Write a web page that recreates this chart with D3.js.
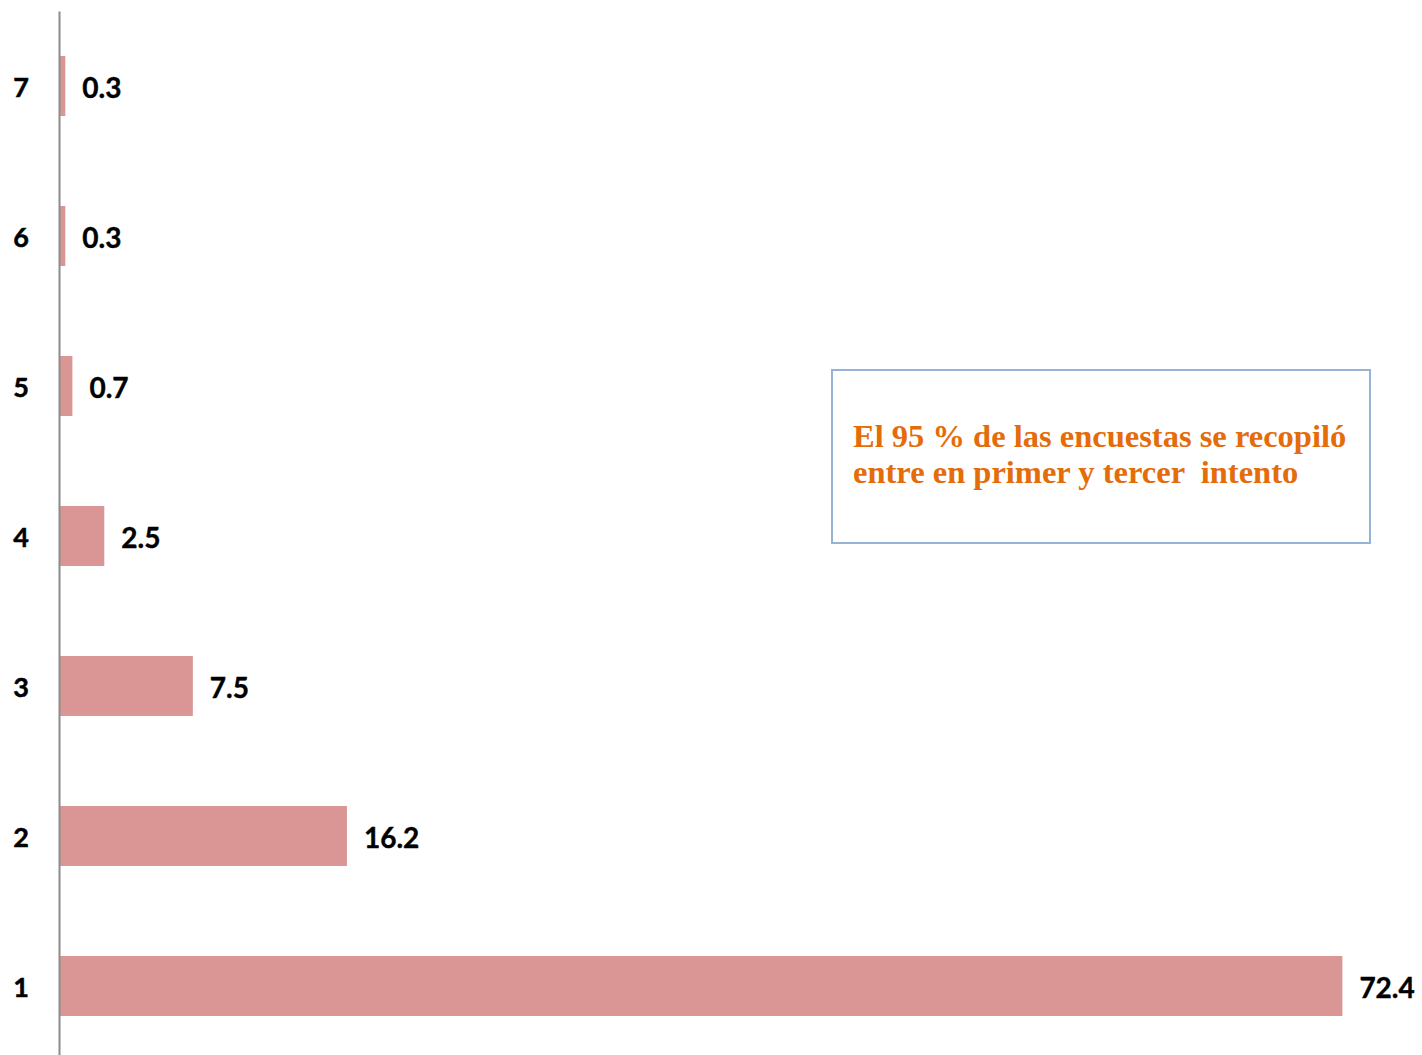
<!DOCTYPE html>
<html lang="es">
<head>
<meta charset="UTF-8" />
<title>Intentos</title>
<script src="https://cdn.jsdelivr.net/npm/d3@7"></script>
<style>
    body { margin: 0; background: #fff; }
</style>
</head>
<body>
<script>
    // datos
    const categories = ['1', '2', '3', '4', '5', '6', '7'];
    const values = [72.4, 16.2, 7.5, 2.5, 0.7, 0.3, 0.3];
    const noteLines = ['El 95 % de las encuestas se recopiló', 'entre en primer y tercer  intento'];

    const width = 1422, height = 1055;

    const svg = d3.select('body').append('svg')
        .attr('width', width)
        .attr('height', height);

    const x = d3.scaleLinear()
        .domain([0, 80])
        .range([60, 1477]);

    // 7 arriba, 1 abajo
    const y = d3.scaleBand()
        .domain(categories.slice().reverse())
        .range([11, 1061])
        .paddingInner(0.6)
        .paddingOuter(0.3);

    const data = categories.map((c, i) => ({ cat: c, value: values[i] }));

    svg.append('g')
        .selectAll('rect')
        .data(data)
        .join('rect')
        .attr('x', x(0))
        .attr('y', d => y(d.cat))
        .attr('width', d => x(d.value) - x(0))
        .attr('height', y.bandwidth())
        .attr('fill', '#d99694');

    // eje vertical
    const yAxis = svg.append('g')
        .attr('transform', `translate(${x(0) - 1},0)`)
        .call(d3.axisLeft(y).tickSize(0).tickPadding(30));
    yAxis.select('.domain')
        .attr('stroke', '#8c8c8c')
        .attr('stroke-width', 2);
    yAxis.selectAll('text')
        .attr('font-family', 'Lato, "Open Sans", sans-serif')
        .attr('font-weight', 'bold')
        .attr('font-size', 27)
        .attr('fill', '#000')
        .attr('stroke', '#000')
        .attr('stroke-width', 0.5)
        .attr('dy', '0.42em')
        .attr('text-anchor', 'end');

    // etiquetas de valores
    svg.append('g')
        .selectAll('text')
        .data(data)
        .join('text')
        .attr('x', d => x(d.value) + 17)
        .attr('y', d => y(d.cat) + y.bandwidth() / 2)
        .attr('dy', '0.42em')
        .attr('font-family', 'Lato, "Open Sans", sans-serif')
        .attr('font-weight', 'bold')
        .attr('font-size', 28)
        .attr('fill', '#000')
        .attr('stroke', '#000')
        .attr('stroke-width', 0.4)
        .text(d => d.value.toFixed(1));

    // cuadro de nota
    const note = svg.append('g');
    note.append('rect')
        .attr('x', 832)
        .attr('y', 370)
        .attr('width', 538)
        .attr('height', 173)
        .attr('fill', '#fff')
        .attr('stroke', '#95b3d7')
        .attr('stroke-width', 2);
    note.append('text')
        .attr('font-family', '"Liberation Serif", "Times New Roman", serif')
        .attr('font-weight', 'bold')
        .attr('font-size', 32.5)
        .attr('fill', '#e46c0a')
        .attr('xml:space', 'preserve')
        .style('white-space', 'pre')
        .selectAll('tspan')
        .data(noteLines)
        .join('tspan')
        .attr('x', 853)
        .attr('y', (d, i) => 447 + i * 36)
        .text(d => d);
</script>
</body>
</html>
